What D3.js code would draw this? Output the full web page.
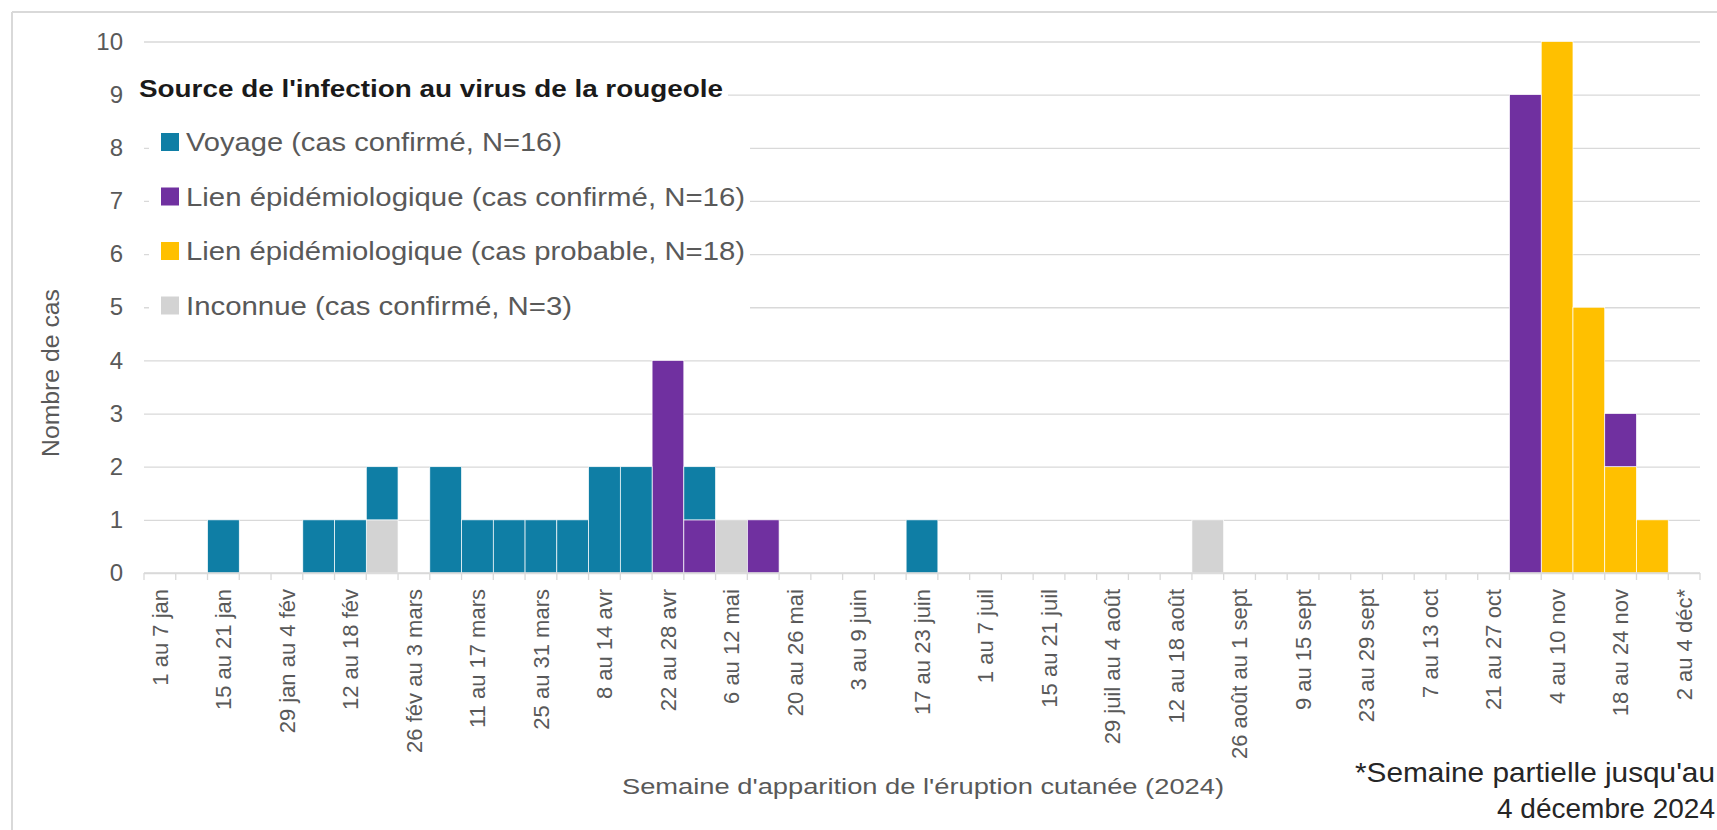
<!DOCTYPE html>
<html><head><meta charset="utf-8">
<script src="https://cdn.jsdelivr.net/npm/d3@7"></script>
<style>body{margin:0;background:#fff;} svg{display:block;}</style>
</head><body><svg id="c" width="1717" height="830"></svg>
<script>
const weekLabels = [
 "1 au 7 jan","8 au 14 jan","15 au 21 jan","22 au 28 jan","29 jan au 4 fév","5 au 11 fév",
 "12 au 18 fév","19 au 25 fév","26 fév au 3 mars","4 au 10 mars","11 au 17 mars","18 au 24 mars",
 "25 au 31 mars","1 au 7 avr","8 au 14 avr","15 au 21 avr","22 au 28 avr","29 avr au 5 mai",
 "6 au 12 mai","13 au 19 mai","20 au 26 mai","27 mai au 2 juin","3 au 9 juin","10 au 16 juin",
 "17 au 23 juin","24 au 30 juin","1 au 7 juil","8 au 14 juil","15 au 21 juil","22 au 28 juil",
 "29 juil au 4 août","5 au 11 août","12 au 18 août","19 au 25 août","26 août au 1 sept","2 au 8 sept",
 "9 au 15 sept","16 au 22 sept","23 au 29 sept","30 sept au 6 oct","7 au 13 oct","14 au 20 oct",
 "21 au 27 oct","28 oct au 3 nov","4 au 10 nov","11 au 17 nov","18 au 24 nov","25 nov au 1 déc",
 "2 au 4 déc*"
];
const voyage       = [0,0,1,0,0,1,1,1,0,2, 1,1,1,1,2,2,0,1,0,0, 0,0,0,0,1,0,0,0,0,0, 0,0,0,0,0,0,0,0,0,0, 0,0,0,0,0,0,0,0,0];
const lienConfirme = [0,0,0,0,0,0,0,0,0,0, 0,0,0,0,0,0,4,1,0,1, 0,0,0,0,0,0,0,0,0,0, 0,0,0,0,0,0,0,0,0,0, 0,0,0,9,0,0,1,0,0];
const lienProbable = [0,0,0,0,0,0,0,0,0,0, 0,0,0,0,0,0,0,0,0,0, 0,0,0,0,0,0,0,0,0,0, 0,0,0,0,0,0,0,0,0,0, 0,0,0,0,10,5,2,1,0];
const inconnue     = [0,0,0,0,0,0,0,1,0,0, 0,0,0,0,0,0,0,0,1,0, 0,0,0,0,0,0,0,0,0,0, 0,0,0,1,0,0,0,0,0,0, 0,0,0,0,0,0,0,0,0];
const yTicks = [0,1,2,3,4,5,6,7,8,9,10];
const seriesKeys   = ["voyage","lienConfirme","lienProbable","inconnue"];
const seriesNames  = ["Voyage (cas confirmé, N=16)","Lien épidémiologique (cas confirmé, N=16)","Lien épidémiologique (cas probable, N=18)","Inconnue (cas confirmé, N=3)"];
const seriesColors = ["#0F7EA5","#7030A0","#FFC000","#D3D3D3"];
const legendTitle = "Source de l'infection au virus de la rougeole";
const xTitle = "Semaine d'apparition de l'éruption cutanée (2024)";
const yTitle = "Nombre de cas";
const footnote = ["*Semaine partielle jusqu'au","4 décembre 2024"];

const FONT = "'Liberation Sans', Arial, sans-serif";
const svg = d3.select("#c");
const L = 144, R = 1700, T = 41.5, B = 573;
const x = d3.scaleBand().domain(d3.range(weekLabels.length)).range([L, R]).padding(0);
const y = d3.scaleLinear().domain([0, 10]).range([B, T]);
const bx = d3.scaleLinear().domain([0, weekLabels.length]).range([L, R]);
const color = d3.scaleOrdinal().domain(seriesKeys).range(seriesColors);

// outer border (top & left)
svg.append("line").attr("x1",12).attr("x2",1717).attr("y1",12).attr("y2",12).attr("stroke","#d9d9d9").attr("stroke-width",2);
svg.append("line").attr("x1",12).attr("x2",12).attr("y1",12).attr("y2",830).attr("stroke","#d9d9d9").attr("stroke-width",2);

// y grid + labels
const gy = svg.append("g").attr("transform", `translate(${L},0)`)
  .call(d3.axisLeft(y).tickValues(yTicks).tickSize(-(R - L)).tickPadding(21).tickFormat(d3.format("d")));
gy.select(".domain").remove();
gy.selectAll(".tick line").attr("stroke", "#d9d9d9").attr("stroke-width", 1.3);
gy.selectAll(".tick text").attr("fill", "#595959").style("font-family", FONT).style("font-size", "24px");

// bars (stack bottom -> top: inconnue, probable, confirmé, voyage)
const rows = weekLabels.map((w, i) => ({i, voyage: voyage[i], lienConfirme: lienConfirme[i], lienProbable: lienProbable[i], inconnue: inconnue[i]}));
const stacked = d3.stack().keys(["inconnue","lienProbable","lienConfirme","voyage"])(rows);
svg.append("g").selectAll("g").data(stacked).join("g")
  .attr("fill", d => color(d.key))
  .selectAll("rect").data(d => d.filter(p => p[1] > p[0])).join("rect")
  .attr("x", d => x(d.data.i)).attr("width", x.bandwidth())
  .attr("y", d => y(d[1])).attr("height", d => y(d[0]) - y(d[1]))
  .attr("stroke", "#fff").attr("stroke-width", 0.7);

// x axis line + boundary ticks
svg.append("line").attr("x1", L).attr("x2", R).attr("y1", B).attr("y2", B).attr("stroke", "#d9d9d9").attr("stroke-width", 1.5);
svg.append("g").selectAll("line").data(d3.range(weekLabels.length + 1)).join("line")
  .attr("x1", d => bx(d)).attr("x2", d => bx(d)).attr("y1", B).attr("y2", B + 7)
  .attr("stroke", "#d9d9d9").attr("stroke-width", 1.3);

// x labels
const gx = svg.append("g").attr("transform", `translate(0,${B})`)
  .call(d3.axisBottom(x).tickSize(0).tickFormat(d => d % 2 === 0 ? weekLabels[d] : ""));
gx.select(".domain").remove();
gx.selectAll(".tick text")
  .attr("transform", "rotate(-90)").attr("text-anchor", "end")
  .attr("x", -16).attr("y", 0).attr("dy", "0.35em")
  .attr("fill", "#595959").style("font-family", FONT).style("font-size", "22px");

// axis titles
svg.append("text").attr("x", 923).attr("y", 794).attr("text-anchor", "middle")
  .attr("fill", "#595959").style("font-family", FONT).style("font-size", "22px")
  .attr("textLength", 602).attr("lengthAdjust", "spacingAndGlyphs").text(xTitle);
svg.append("text").attr("transform", "translate(51,373) rotate(-90)").attr("text-anchor", "middle").attr("dy", "0.35em")
  .attr("fill", "#595959").style("font-family", FONT).style("font-size", "23px")
  .attr("textLength", 168).attr("lengthAdjust", "spacingAndGlyphs").text(yTitle);

// legend
svg.append("rect").attr("x", 136).attr("y", 76).attr("width", 592).attr("height", 32).attr("fill", "#fff");
svg.append("rect").attr("x", 149).attr("y", 120).attr("width", 601).attr("height", 205).attr("fill", "#fff");
svg.append("text").attr("x", 139).attr("y", 96.5)
  .attr("fill", "#1a1a1a").style("font-family", FONT).style("font-size", "23px").style("font-weight", "bold")
  .attr("textLength", 584).attr("lengthAdjust", "spacingAndGlyphs").text(legendTitle);
const legendLens = [376, 559, 559, 386];
const lg = svg.append("g").selectAll("g").data(seriesKeys).join("g")
  .attr("transform", (d, i) => `translate(0,${142 + i * 54.5})`);
lg.append("rect").attr("x", 161).attr("y", -9).attr("width", 18).attr("height", 18).attr("fill", d => color(d));
lg.append("text").attr("x", 186).attr("y", 0).attr("dy", "0.36em")
  .attr("fill", "#595959").style("font-family", FONT).style("font-size", "26px")
  .attr("textLength", (d, i) => legendLens[i]).attr("lengthAdjust", "spacingAndGlyphs")
  .text((d, i) => seriesNames[i]);

// footnote
const fnLens = [360, 218];
svg.append("g").selectAll("text").data(footnote).join("text")
  .attr("x", 1715).attr("y", (d, i) => 782 + i * 36).attr("text-anchor", "end")
  .attr("fill", "#262626").style("font-family", FONT).style("font-size", "28px")
  .attr("textLength", (d, i) => fnLens[i]).attr("lengthAdjust", "spacingAndGlyphs")
  .text(d => d);
</script>
</body></html>
